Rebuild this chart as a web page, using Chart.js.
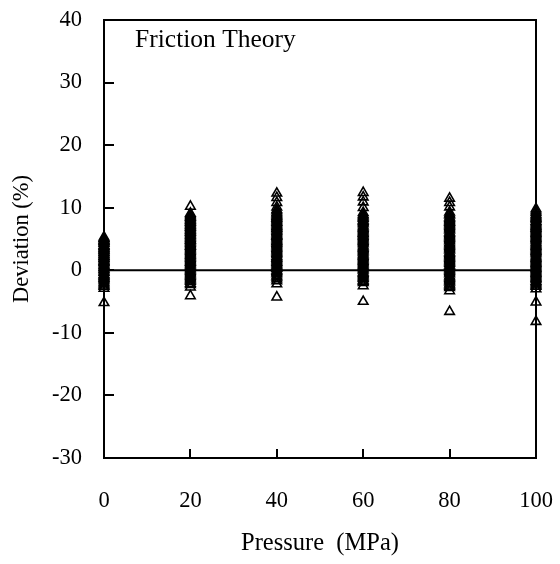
<!DOCTYPE html>
<html>
<head>
<meta charset="utf-8">
<script src="https://cdn.jsdelivr.net/npm/chart.js@4.4.1/dist/chart.umd.min.js"></script>
<style>
html,body{margin:0;padding:0;background:#fff;}
#wrap{width:560px;height:564px;}
</style>
</head>
<body>
<div id="wrap"><canvas id="c" width="560" height="564"></canvas></div>
<script>
const pressures = [0, 20, 40, 60, 80, 100];
const dev0 = [5.3, 5.1, 5.0, 4.8, 4.7, 4.6, 4.4, 4.3, 4.0, 3.9, 3.8, 3.6, 3.5, 3.3, 3.2, 3.1, 2.9, 2.8, 2.6, 2.5, 2.3, 2.2, 2.1, 1.9, 1.8, 1.6, 1.4, 1.3, 1.2, 1.0, 0.8, 0.7, 0.5, 0.4, 0.2, 0.1, -0.1, -0.3, -0.4, -0.7, -0.8, -1.0, -1.2, -1.3, -1.5, -1.7, -2.0, -2.2, -2.4, -2.6, -2.9, -5.2];
const dev20 = [10.2, 9.1, 8.9, 8.7, 8.5, 8.4, 8.2, 8.0, 7.9, 7.7, 7.6, 7.4, 7.2, 7.1, 6.9, 6.8, 6.6, 6.4, 6.3, 6.1, 6.0, 5.8, 5.6, 5.5, 5.3, 5.1, 4.9, 4.8, 4.7, 4.5, 4.3, 4.1, 3.9, 3.8, 3.6, 3.4, 3.2, 3.0, 2.8, 2.6, 2.4, 2.3, 2.1, 1.9, 1.7, 1.5, 1.3, 1.2, 1.0, 0.8, 0.6, 0.4, 0.2, 0.0, -0.2, -0.4, -0.6, -0.8, -1.0, -1.2, -1.4, -1.6, -1.8, -2.1, -2.3, -2.7, -4.1];
const dev40 = [12.3, 11.6, 10.8, 10.1, 9.7, 9.5, 9.2, 9.0, 8.8, 8.6, 8.4, 8.3, 8.1, 7.9, 7.7, 7.6, 7.4, 7.2, 7.0, 6.9, 6.7, 6.6, 6.4, 6.2, 6.0, 5.8, 5.6, 5.5, 5.4, 5.2, 5.0, 4.8, 4.6, 4.5, 4.3, 4.1, 3.9, 3.7, 3.5, 3.3, 3.1, 2.9, 2.7, 2.5, 2.2, 2.0, 1.9, 1.7, 1.5, 1.3, 1.2, 1.0, 0.8, 0.6, 0.4, 0.3, 0.0, -0.2, -0.4, -0.6, -0.9, -1.1, -1.4, -1.7, -2.2, -4.3];
const dev60 = [12.4, 11.7, 10.9, 10.0, 9.2, 8.9, 8.7, 8.5, 8.3, 8.0, 7.8, 7.6, 7.4, 7.1, 6.9, 6.7, 6.5, 6.3, 6.1, 5.9, 5.8, 5.6, 5.4, 5.2, 5.0, 4.8, 4.6, 4.4, 4.2, 3.9, 3.7, 3.5, 3.3, 3.1, 2.9, 2.6, 2.4, 2.2, 2.0, 1.8, 1.6, 1.4, 1.2, 1.0, 0.8, 0.6, 0.4, 0.2, 0.0, -0.3, -0.5, -0.7, -0.9, -1.1, -1.3, -1.6, -1.8, -2.0, -2.5, -5.0];
const dev80 = [11.5, 10.8, 10.1, 9.3, 9.0, 8.8, 8.5, 8.3, 8.1, 7.9, 7.7, 7.6, 7.4, 7.2, 7.0, 6.8, 6.6, 6.4, 6.1, 5.9, 5.7, 5.5, 5.3, 5.1, 4.9, 4.7, 4.4, 4.2, 4.0, 3.8, 3.6, 3.4, 3.2, 2.9, 2.7, 2.5, 2.3, 2.1, 1.9, 1.7, 1.5, 1.3, 1.1, 0.8, 0.6, 0.4, 0.2, 0.0, -0.2, -0.4, -0.6, -0.9, -1.1, -1.3, -1.5, -1.7, -1.9, -2.2, -2.4, -2.6, -2.8, -3.3, -6.6];
const dev100 = [9.8, 9.5, 9.2, 8.9, 8.7, 8.5, 8.3, 8.1, 7.8, 7.6, 7.4, 7.2, 7.0, 6.8, 6.7, 6.5, 6.3, 6.1, 5.9, 5.7, 5.5, 5.3, 5.1, 4.9, 4.7, 4.4, 4.2, 4.0, 3.8, 3.6, 3.4, 3.2, 3.0, 2.8, 2.6, 2.3, 2.1, 1.9, 1.7, 1.5, 1.3, 1.1, 0.9, 0.7, 0.5, 0.3, 0.1, -0.1, -0.3, -0.5, -0.7, -0.9, -1.1, -1.3, -1.5, -1.8, -2.0, -2.2, -2.4, -2.6, -3.0, -5.1, -8.2];
const xTicks = [0, 20, 40, 60, 80, 100];
const yTicks = [-30, -20, -10, 0, 10, 20, 30, 40];
const annotationText = "Friction Theory";
const xTitle = "Pressure  (MPa)";
const yTitle = "Deviation (%)";

const allDevs = [dev0, dev20, dev40, dev60, dev80, dev100];
const points = [];
pressures.forEach((p, i) => allDevs[i].forEach(v => points.push({x: p, y: v})));

const FONT = "'Liberation Serif', 'Times New Roman', serif";

const framePlugin = {
  id: 'frame',
  beforeDatasetsDraw(chart) {
    const {ctx, chartArea: a, scales} = chart;
    ctx.save();
    ctx.strokeStyle = '#000';
    ctx.lineWidth = 2;
    ctx.strokeRect(a.left, a.top, a.right - a.left, a.bottom - a.top);
    ctx.beginPath();
    yTicks.forEach(t => {
      const py = Math.round(scales.y.getPixelForValue(t));
      ctx.moveTo(a.left, py); ctx.lineTo(a.left + 10, py);
    });
    xTicks.slice(1, -1).forEach(t => {
      const px = Math.round(scales.x.getPixelForValue(t));
      ctx.moveTo(px, a.bottom); ctx.lineTo(px, a.bottom - 9);
    });
    ctx.stroke();
    ctx.fillStyle = '#000';
    ctx.font = '25.5px ' + FONT;
    ctx.textAlign = 'left';
    ctx.textBaseline = 'middle';
    ctx.fillText(annotationText, scales.x.getPixelForValue(7.2), scales.y.getPixelForValue(36.8));
    ctx.restore();
  }
};

new Chart(document.getElementById('c'), {
  type: 'scatter',
  data: {
    datasets: [
      {
        type: 'line',
        data: [{x: 0, y: 0}, {x: 100, y: 0}],
        borderColor: '#000',
        borderWidth: 2,
        pointRadius: 0,
        fill: false,
        order: 2
      },
      {
        data: points,
        pointStyle: 'triangle',
        pointRadius: 5.5,
        pointBorderColor: '#000',
        pointBackgroundColor: 'rgba(255,255,255,0)',
        pointBorderWidth: 1.6,
        borderColor: '#000',
        backgroundColor: 'rgba(255,255,255,0)',
        clip: false,
        order: 1
      }
    ]
  },
  options: {
    responsive: false,
    animation: false,
    devicePixelRatio: 1,
    layout: {padding: {top: 20, right: 24, left: 0, bottom: 0}},
    plugins: {legend: {display: false}, tooltip: {enabled: false}},
    scales: {
      x: {
        type: 'linear', min: 0, max: 100,
        afterBuildTicks: s => { s.ticks = xTicks.map(v => ({value: v})); },
        afterFit: s => { s.height = 106; s.paddingLeft = 0; s.paddingRight = 0; },
        grid: {display: false, drawTicks: false},
        border: {display: false},
        ticks: {color: '#000', font: {family: FONT, size: 22.5}, padding: 30, maxRotation: 0},
        title: {display: true, text: xTitle, color: '#000', font: {family: FONT, size: 24.5}, padding: {top: 0, bottom: 6}}
      },
      y: {
        type: 'linear', min: -30, max: 40,
        afterBuildTicks: s => { s.ticks = yTicks.map(v => ({value: v})); },
        afterFit: s => { s.width = 104; s.paddingTop = 0; s.paddingBottom = 0; },
        grid: {display: false, drawTicks: false},
        border: {display: false},
        ticks: {color: '#000', font: {family: FONT, size: 22.5}, padding: 22},
        title: {display: true, text: yTitle, color: '#000', font: {family: FONT, size: 22.5}, padding: {top: 9, bottom: 0}}
      }
    }
  },
  plugins: [framePlugin]
});
</script>
</body>
</html>
